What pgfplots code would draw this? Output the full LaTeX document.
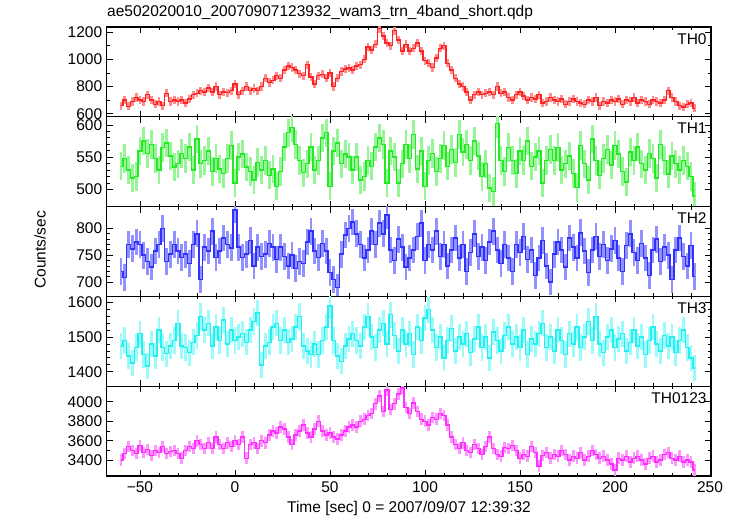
\documentclass[border=0pt]{standalone}
\usepackage{pgfplots}
\usepackage{pgfplotstable}
\pgfplotsset{compat=1.18}
\usepackage{fontspec}
\setmainfont{Liberation Sans}

\definecolor{cA}{RGB}{255,35,35}\definecolor{eA}{RGB}{255,140,140}
\definecolor{cB}{RGB}{35,235,35}\definecolor{eB}{RGB}{150,245,150}
\definecolor{cC}{RGB}{50,50,255}\definecolor{eC}{RGB}{145,145,255}
\definecolor{cD}{RGB}{35,240,240}\definecolor{eD}{RGB}{155,250,250}
\definecolor{cE}{RGB}{255,45,255}\definecolor{eE}{RGB}{255,150,255}

\pgfplotstableread[row sep=\\]{t c\\
-60 660\\ -58 700\\ -56 655\\ -54 690\\ -52 720\\ -50 700\\ -48 690\\ -46 740\\ -44 700\\ -42 670\\
-40 690\\ -38 660\\ -36 750\\ -34 690\\ -32 700\\ -30 690\\ -28 700\\ -26 680\\ -24 710\\ -22 740\\
-20 750\\ -18 770\\ -16 760\\ -14 790\\ -12 760\\ -10 800\\ -8 740\\ -6 760\\ -4 755\\ -2 770\\
0 820\\ 2 740\\ 4 770\\ 6 800\\ 8 770\\ 10 785\\ 12 770\\ 14 800\\ 16 860\\ 18 830\\
20 845\\ 22 880\\ 24 860\\ 26 920\\ 28 950\\ 30 940\\ 32 920\\ 34 895\\ 36 880\\ 38 960\\
40 870\\ 42 820\\ 44 880\\ 46 890\\ 48 860\\ 50 900\\ 52 800\\ 54 860\\ 56 910\\ 58 930\\
60 935\\ 62 920\\ 64 950\\ 66 960\\ 68 1000\\ 70 1090\\ 72 1070\\ 74 1110\\ 76 1225\\ 78 1170\\
80 1120\\ 82 1100\\ 84 1210\\ 86 1140\\ 88 1060\\ 90 1110\\ 92 1060\\ 94 1080\\ 96 1120\\ 98 1060\\
100 990\\ 102 970\\ 104 940\\ 106 1010\\ 108 1080\\ 110 1100\\ 112 970\\ 114 920\\ 116 860\\ 118 820\\
120 800\\ 122 760\\ 124 700\\ 126 740\\ 128 760\\ 130 740\\ 132 750\\ 134 760\\ 136 740\\ 138 800\\
140 750\\ 142 760\\ 144 720\\ 146 700\\ 148 740\\ 150 760\\ 152 730\\ 154 700\\ 156 720\\ 158 710\\
160 740\\ 162 680\\ 164 690\\ 166 720\\ 168 700\\ 170 690\\ 172 710\\ 174 670\\ 176 690\\ 178 710\\
180 690\\ 182 680\\ 184 670\\ 186 700\\ 188 690\\ 190 720\\ 192 660\\ 194 690\\ 196 680\\ 198 700\\
200 690\\ 202 710\\ 204 670\\ 206 700\\ 208 690\\ 210 720\\ 212 680\\ 214 700\\ 216 690\\ 218 670\\
220 700\\ 222 690\\ 224 680\\ 226 700\\ 228 770\\ 230 720\\ 232 690\\ 234 660\\ 236 650\\ 238 670\\
240 680\\ 242 640\\
}\thzero

\pgfplotstableread[row sep=\\]{t c\\
-60 536\\ -58 548\\ -56 530\\ -54 518\\ -52 520\\ -50 560\\ -48 575\\ -46 556\\ -44 570\\ -42 548\\
-40 530\\ -38 565\\ -36 572\\ -34 552\\ -32 535\\ -30 540\\ -28 556\\ -26 548\\ -24 566\\ -22 530\\
-20 578\\ -18 540\\ -16 545\\ -14 560\\ -12 528\\ -10 548\\ -8 532\\ -6 525\\ -4 548\\ -2 568\\
0 510\\ 2 550\\ 4 555\\ 6 535\\ 8 528\\ 10 515\\ 12 542\\ 14 530\\ 16 545\\ 18 522\\
20 532\\ 22 505\\ 24 528\\ 26 566\\ 28 588\\ 30 596\\ 32 570\\ 34 545\\ 36 526\\ 38 540\\
40 566\\ 42 530\\ 44 545\\ 46 580\\ 48 588\\ 50 505\\ 52 560\\ 54 572\\ 56 540\\ 58 555\\
60 550\\ 62 530\\ 64 550\\ 66 515\\ 68 520\\ 70 545\\ 72 536\\ 74 566\\ 76 580\\ 78 570\\
80 510\\ 82 560\\ 84 550\\ 86 510\\ 88 540\\ 90 570\\ 92 548\\ 94 585\\ 96 532\\ 98 560\\
100 505\\ 102 545\\ 104 556\\ 106 528\\ 108 548\\ 110 568\\ 112 536\\ 114 562\\ 116 542\\ 118 585\\
120 558\\ 122 570\\ 124 545\\ 126 575\\ 128 552\\ 130 520\\ 132 540\\ 134 502\\ 136 497\\ 138 602\\
140 545\\ 142 528\\ 144 565\\ 146 545\\ 148 525\\ 150 560\\ 152 545\\ 154 575\\ 156 536\\ 158 550\\
160 560\\ 162 510\\ 164 545\\ 166 562\\ 168 545\\ 170 565\\ 172 530\\ 174 540\\ 176 552\\ 178 525\\
180 503\\ 182 568\\ 184 540\\ 186 515\\ 188 578\\ 190 545\\ 192 522\\ 194 548\\ 196 562\\ 198 538\\
200 568\\ 202 555\\ 204 528\\ 206 512\\ 208 558\\ 210 545\\ 212 566\\ 214 540\\ 216 530\\ 218 556\\
220 548\\ 222 518\\ 224 570\\ 226 545\\ 228 524\\ 230 552\\ 232 540\\ 234 530\\ 236 545\\ 238 536\\
240 520\\ 242 490\\
}\thone

\pgfplotstableread[row sep=\\]{t c\\
-60 720\\ -58 708\\ -56 770\\ -54 762\\ -52 775\\ -50 770\\ -48 750\\ -46 738\\ -44 728\\ -42 758\\
-40 770\\ -38 800\\ -36 738\\ -34 752\\ -32 770\\ -30 758\\ -28 746\\ -26 752\\ -24 735\\ -22 770\\
-20 790\\ -18 705\\ -16 765\\ -14 758\\ -12 795\\ -10 746\\ -8 758\\ -6 782\\ -4 770\\ -2 764\\
0 835\\ 2 765\\ 4 746\\ 6 752\\ 8 778\\ 10 730\\ 12 765\\ 14 748\\ 16 752\\ 18 772\\
20 765\\ 22 742\\ 24 765\\ 26 748\\ 28 730\\ 30 750\\ 32 725\\ 34 738\\ 36 735\\ 38 775\\
40 795\\ 42 758\\ 44 746\\ 46 772\\ 48 758\\ 50 718\\ 52 705\\ 54 690\\ 56 752\\ 58 788\\
60 800\\ 62 812\\ 64 790\\ 66 770\\ 68 745\\ 70 760\\ 72 795\\ 74 770\\ 76 810\\ 78 790\\
80 825\\ 82 760\\ 84 740\\ 86 780\\ 88 765\\ 90 728\\ 92 745\\ 94 760\\ 96 785\\ 98 810\\
100 740\\ 102 770\\ 104 760\\ 106 795\\ 108 748\\ 110 770\\ 112 730\\ 114 760\\ 116 782\\ 118 745\\
120 770\\ 122 720\\ 124 755\\ 126 790\\ 128 748\\ 130 765\\ 132 740\\ 134 775\\ 136 795\\ 138 760\\
140 735\\ 142 770\\ 144 745\\ 146 720\\ 148 770\\ 150 755\\ 152 785\\ 154 742\\ 156 760\\ 158 712\\
160 745\\ 162 778\\ 164 730\\ 166 700\\ 168 752\\ 170 775\\ 172 760\\ 174 728\\ 176 782\\ 178 765\\
180 745\\ 182 792\\ 184 758\\ 186 718\\ 188 760\\ 190 785\\ 192 748\\ 194 770\\ 196 740\\ 198 762\\
200 778\\ 202 745\\ 204 720\\ 206 768\\ 208 790\\ 210 755\\ 212 740\\ 214 772\\ 216 745\\ 218 712\\
220 760\\ 222 780\\ 224 738\\ 226 765\\ 228 750\\ 230 705\\ 232 760\\ 234 782\\ 236 748\\ 238 730\\
240 768\\ 242 710\\
}\thtwo

\pgfplotstableread[row sep=\\]{t c\\
-60 1475\\ -58 1490\\ -56 1445\\ -54 1425\\ -52 1470\\ -50 1510\\ -48 1450\\ -46 1416\\ -44 1480\\ -42 1445\\
-40 1520\\ -38 1470\\ -36 1452\\ -34 1475\\ -32 1490\\ -30 1540\\ -28 1475\\ -26 1470\\ -24 1455\\ -22 1485\\
-20 1505\\ -18 1560\\ -16 1520\\ -14 1540\\ -12 1475\\ -10 1530\\ -8 1490\\ -6 1550\\ -4 1480\\ -2 1520\\
0 1490\\ 2 1500\\ 4 1510\\ 6 1485\\ 8 1520\\ 10 1545\\ 12 1570\\ 14 1420\\ 16 1475\\ 18 1485\\
20 1530\\ 22 1540\\ 24 1490\\ 26 1520\\ 28 1485\\ 30 1495\\ 32 1530\\ 34 1560\\ 36 1475\\ 38 1460\\
40 1450\\ 42 1480\\ 44 1450\\ 46 1490\\ 48 1530\\ 50 1590\\ 52 1490\\ 54 1445\\ 56 1430\\ 58 1475\\
60 1495\\ 62 1510\\ 64 1490\\ 66 1475\\ 68 1530\\ 70 1560\\ 72 1500\\ 74 1470\\ 76 1520\\ 78 1540\\
80 1480\\ 82 1565\\ 84 1505\\ 86 1460\\ 88 1520\\ 90 1480\\ 92 1510\\ 94 1450\\ 96 1530\\ 98 1490\\
100 1555\\ 102 1580\\ 104 1520\\ 106 1470\\ 108 1500\\ 110 1440\\ 112 1490\\ 114 1525\\ 116 1460\\ 118 1500\\
120 1480\\ 122 1510\\ 124 1455\\ 126 1495\\ 128 1530\\ 130 1470\\ 132 1500\\ 134 1440\\ 136 1515\\ 138 1490\\
140 1460\\ 142 1505\\ 144 1530\\ 146 1480\\ 148 1500\\ 150 1470\\ 152 1520\\ 154 1450\\ 156 1495\\ 158 1480\\
160 1510\\ 162 1540\\ 164 1470\\ 166 1500\\ 168 1460\\ 170 1520\\ 172 1490\\ 174 1450\\ 176 1510\\ 178 1480\\
180 1530\\ 182 1470\\ 184 1500\\ 186 1545\\ 188 1490\\ 190 1560\\ 192 1480\\ 194 1455\\ 196 1500\\ 198 1520\\
200 1470\\ 202 1495\\ 204 1510\\ 206 1460\\ 208 1485\\ 210 1520\\ 212 1475\\ 214 1500\\ 216 1450\\ 218 1490\\
220 1530\\ 222 1480\\ 224 1460\\ 226 1505\\ 228 1475\\ 230 1500\\ 232 1455\\ 234 1490\\ 236 1520\\ 238 1470\\
240 1440\\ 242 1410\\
}\ththree

\pgfplotstableread[row sep=\\]{t c\\
-60 3400\\ -58 3470\\ -56 3540\\ -54 3500\\ -52 3470\\ -50 3550\\ -48 3480\\ -46 3510\\ -44 3450\\ -42 3500\\
-40 3480\\ -38 3540\\ -36 3470\\ -34 3490\\ -32 3500\\ -30 3470\\ -28 3420\\ -26 3500\\ -24 3540\\ -22 3520\\
-20 3600\\ -18 3560\\ -16 3520\\ -14 3580\\ -12 3520\\ -10 3640\\ -8 3560\\ -6 3520\\ -4 3580\\ -2 3540\\
0 3600\\ 2 3560\\ 4 3640\\ 6 3420\\ 8 3560\\ 10 3580\\ 12 3520\\ 14 3600\\ 16 3580\\ 18 3660\\
20 3700\\ 22 3680\\ 24 3740\\ 26 3720\\ 28 3640\\ 30 3560\\ 32 3660\\ 34 3700\\ 36 3760\\ 38 3680\\
40 3640\\ 42 3720\\ 44 3800\\ 46 3700\\ 48 3660\\ 50 3680\\ 52 3640\\ 54 3620\\ 56 3660\\ 58 3700\\
60 3740\\ 62 3760\\ 64 3740\\ 66 3800\\ 68 3820\\ 70 3860\\ 72 3880\\ 74 3980\\ 76 4060\\ 78 3900\\
80 4120\\ 82 3920\\ 84 3980\\ 86 4080\\ 88 4140\\ 90 3940\\ 92 3880\\ 94 3990\\ 96 3900\\ 98 3820\\
100 3800\\ 102 3760\\ 104 3840\\ 106 3820\\ 108 3880\\ 110 3860\\ 112 3760\\ 114 3640\\ 116 3560\\ 118 3520\\
120 3580\\ 122 3500\\ 124 3480\\ 126 3560\\ 128 3520\\ 130 3460\\ 132 3540\\ 134 3640\\ 136 3520\\ 138 3460\\
140 3440\\ 142 3530\\ 144 3520\\ 146 3550\\ 148 3500\\ 150 3420\\ 152 3460\\ 154 3440\\ 156 3540\\ 158 3480\\
160 3340\\ 162 3450\\ 164 3480\\ 166 3420\\ 168 3460\\ 170 3440\\ 172 3500\\ 174 3460\\ 176 3400\\ 178 3440\\
180 3420\\ 182 3480\\ 184 3400\\ 186 3440\\ 188 3500\\ 190 3460\\ 192 3420\\ 194 3440\\ 196 3400\\ 198 3360\\
200 3300\\ 202 3420\\ 204 3400\\ 206 3440\\ 208 3380\\ 210 3420\\ 212 3440\\ 214 3400\\ 216 3360\\ 218 3420\\
220 3440\\ 222 3380\\ 224 3400\\ 226 3460\\ 228 3480\\ 230 3420\\ 232 3400\\ 234 3440\\ 236 3380\\ 238 3400\\
240 3380\\ 242 3300\\
}\thall

\pgfplotsset{
  panel/.style={
    width=604.3pt, height=89.8pt, scale only axis,
    anchor=south west,
    xmin=-67.5, xmax=250.5,
    xtick={-50,0,50,100,150,200,250}, minor x tick num=4,
    tick align=inside, major tick length=6pt, minor tick length=3pt,
    axis line style={line width=1.1pt},
    every tick/.style={black, line width=0.8pt},
    /pgf/number format/assume math mode=true,
    /pgf/number format/1000 sep={},
    tick label style={font=\fontsize{15.5}{16}\selectfont},
    yticklabel style={xshift=-1pt},
    xticklabels={},
    clip=true,
  },
  errs/.style n args={2}{draw=none, forget plot, mark=none, line width=2.8pt,
    error bars/.cd, y dir=both, y fixed=#2, error mark=none,
    error bar style={draw=#1, line width=2.8pt, solid}},
  line/.style={draw=#1, line width=1.5pt, const plot mark mid, mark=none},
}

\begin{document}
\begin{tikzpicture}
\useasboundingbox (0,0) rectangle (736pt,516pt);

\begin{axis}[panel, at={(106.7pt,399.2pt)}, ymin=578, ymax=1237,
  ytick={600,800,1000,1200}, minor y tick num=1]
\addplot[errs={eA}{30}] table[x=t,y=c] {\thzero};
\addplot[line=cA] table[x=t,y=c] {\thzero};
\node[anchor=north east, font=\fontsize{15.5}{16}\selectfont, inner sep=0pt] at (rel axis cs:0.993,0.93) {TH0};
\end{axis}

\begin{axis}[panel, at={(106.7pt,309.4pt)}, ymin=473.5, ymax=612.7,
  ytick={500,550,600}, minor y tick num=4]
\addplot[errs={eB}{22}] table[x=t,y=c] {\thone};
\addplot[line=cB] table[x=t,y=c] {\thone};
\node[anchor=north east, font=\fontsize{15.5}{16}\selectfont, inner sep=0pt] at (rel axis cs:0.993,0.93) {TH1};
\end{axis}

\begin{axis}[panel, at={(106.7pt,219.6pt)}, ymin=673, ymax=841,
  ytick={700,750,800}, minor y tick num=4]
\addplot[errs={eC}{25}] table[x=t,y=c] {\thtwo};
\addplot[line=cC] table[x=t,y=c] {\thtwo};
\node[anchor=north east, font=\fontsize{15.5}{16}\selectfont, inner sep=0pt] at (rel axis cs:0.993,0.93) {TH2};
\end{axis}

\begin{axis}[panel, at={(106.7pt,129.8pt)}, ymin=1358, ymax=1618,
  ytick={1400,1500,1600}, minor y tick num=4]
\addplot[errs={eD}{38}] table[x=t,y=c] {\ththree};
\addplot[line=cD] table[x=t,y=c] {\ththree};
\node[anchor=north east, font=\fontsize{15.5}{16}\selectfont, inner sep=0pt] at (rel axis cs:0.993,0.93) {TH3};
\end{axis}

\begin{axis}[panel, at={(106.7pt,40pt)}, ymin=3238, ymax=4160,
  ytick={3400,3600,3800,4000}, minor y tick num=1,
  xticklabels={−50,0,50,100,150,200,250},
  xticklabel style={yshift=-2pt}]
\addplot[errs={eE}{60}] table[x=t,y=c] {\thall};
\addplot[line=cE] table[x=t,y=c] {\thall};
\node[anchor=north east, font=\fontsize{15.5}{16}\selectfont, inner sep=0pt] at (rel axis cs:0.993,0.93) {TH0123};
\end{axis}

\node[anchor=base west, font=\fontsize{15.5}{16}\selectfont, inner sep=0pt] at (107pt,499pt) {ae502020010\_20070907123932\_wam3\_trn\_4band\_short.qdp};
\node[anchor=base, font=\fontsize{15.5}{16}\selectfont, inner sep=0pt] at (409pt,3pt) {Time [sec] 0 = 2007/09/07 12:39:32};
\node[rotate=90, anchor=center, font=\fontsize{15.5}{16}\selectfont, inner sep=0pt] at (40pt,266pt) {Counts/sec};
\end{tikzpicture}
\end{document}
